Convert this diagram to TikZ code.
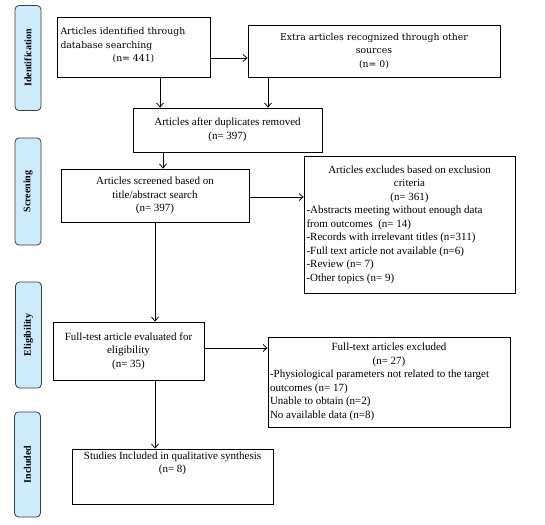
\documentclass[tikz,border=0pt]{standalone}
\usepackage{fontspec}
\setmainfont{Liberation Serif}
\newfontfamily\widefont{DejaVu Serif}
\usetikzlibrary{arrows.meta}
\definecolor{phase}{HTML}{CDEBFB}
\definecolor{phaseline}{HTML}{3A3A3A}
\tikzset{
  box/.style={draw, line width=0.8pt, inner sep=2pt, font=\fontsize{11}{13.5}\selectfont},
  widebox/.style={box, font=\widefont\fontsize{9.3}{13.5}\selectfont},
  phasebox/.style={draw=phaseline, fill=phase, rounded corners=4pt, line width=0.8pt, rotate=90,
    minimum height=26pt, font=\fontsize{10}{11}\selectfont\bfseries, inner sep=1pt},
  arr/.style={line width=0.8pt, -{Straight Barb[length=4pt,width=7pt]}},
  txt/.style={inner sep=0pt, font=\fontsize{11}{13.5}\selectfont}
}
\begin{document}
\begin{tikzpicture}[x=1pt,y=-1pt]
\useasboundingbox (0,0) rectangle (545,524);
% phase labels
\node[phasebox, minimum width=105pt] (pid) at (28,58) {Identification};
\node[phasebox, minimum width=107pt] (psc) at (28,191.5) {Screening};
\node[phasebox, minimum width=106pt] (pel) at (28.5,335) {Eligibility};
\node[phasebox, minimum width=105pt] (pin) at (27.5,464.5) {Included};
% boxes
\node[widebox, minimum width=153pt, minimum height=60pt] (A) at (133.5,47)
  {\begin{minipage}{146pt}\raggedright Articles identified through\\database searching\par\centering (n= 441)\par\vspace{3pt}\end{minipage}};
\node[widebox, minimum width=252pt, minimum height=52pt] (B) at (374,51)
  {\begin{minipage}{246pt}\centering Extra articles recognized through other\\sources\\(n= 0)\end{minipage}};
\node[box, minimum width=189pt, minimum height=44pt] (C) at (227.5,130)
  {\begin{minipage}{182pt}\centering Articles after duplicates removed\\(n= 397)\end{minipage}};
\node[box, minimum width=188pt, minimum height=53pt] (D) at (155,195.5)
  {\begin{minipage}{180pt}\centering Articles screened based on\\title/abstract search\\(n= 397)\end{minipage}};
\node[box, minimum width=211pt, minimum height=137pt] (E) at (409.5,224.5)
  {\begin{minipage}{206pt}\centering Articles excludes based on exclusion\\criteria\\(n= 361)\par\raggedright
   -Abstracts meeting without enough data\\from outcomes\ \ (n= 14)\\-Records with irrelevant titles (n=311)\\-Full text article not available (n=6)\\-Review (n= 7)\\-Other topics (n= 9)\end{minipage}};
\node[box, minimum width=151pt, minimum height=58pt] (F) at (128.5,351)
  {\begin{minipage}{145pt}\centering Full-test article evaluated for\\eligibility\\(n= 35)\end{minipage}};
\node[box, minimum width=242pt, minimum height=90pt] (G) at (389,382)
  {\begin{minipage}{238pt}\centering Full-text articles excluded\\(n= 27)\par\raggedright
   -Physiological parameters not related to the target\\outcomes (n= 17)\\Unable to obtain (n=2)\\No available data (n=8)\end{minipage}};
\node[box, minimum width=201pt, minimum height=55pt] (H) at (172.5,476.5) {};
\node[txt, anchor=north, align=center] (Ht) at ([yshift=-3pt]H.north)
  {Studies Included in qualitative synthesis\\(n= 8)};
% arrows
\draw[arr] ([yshift=-11pt]A.east) -- ([yshift=-11pt]A.east -| B.west);
\draw[arr] ([xshift=26.5pt]A.south) -- ([xshift=26.5pt]A.south |- C.north);
\draw[arr] ([xshift=-106pt]B.south) -- ([xshift=-106pt]B.south |- C.north);
\draw[arr] ([xshift=-64.5pt]C.south) -- ([xshift=-64.5pt]C.south |- D.north);
\draw[arr] ([yshift=-1.5pt]D.east) -- ([yshift=-1.5pt]D.east -| E.west);
\draw[arr] (D.south) -- (D.south |- F.north);
\draw[arr] ([yshift=3pt]F.east) -- ([yshift=3pt]F.east -| G.west);
\draw[arr] ([xshift=26.5pt]F.south) -- ([xshift=26.5pt]F.south |- H.north);
\end{tikzpicture}
\end{document}
